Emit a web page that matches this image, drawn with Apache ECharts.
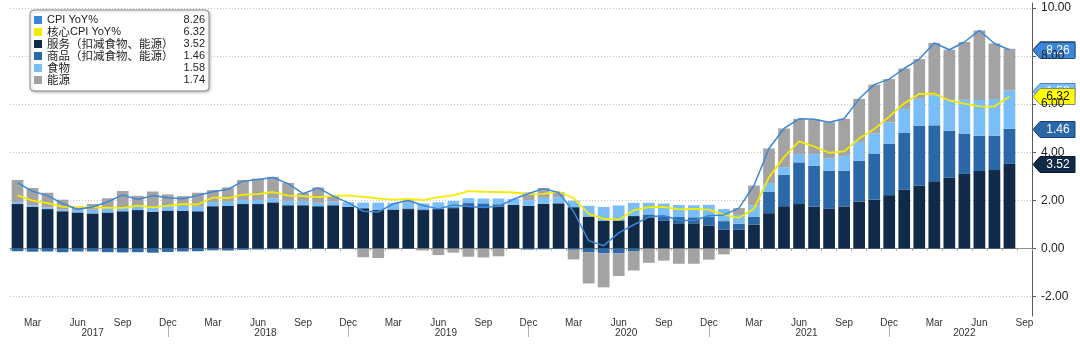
<!DOCTYPE html>
<html>
<head>
<meta charset="utf-8">
<script src="https://cdn.jsdelivr.net/npm/echarts@6/dist/echarts.min.js"></script>
<style>
  html, body { margin: 0; padding: 0; background: #ffffff; }
  #chart { width: 1080px; height: 344px; }
</style>
</head>
<body>
<div id="chart"></div>
<script>
// Monthly categories, Feb 2017 – Sep 2022 (Sep 2022 has no print yet)
const categories = [
  '2017-02','2017-03','2017-04','2017-05','2017-06','2017-07','2017-08','2017-09','2017-10','2017-11','2017-12',
  '2018-01','2018-02','2018-03','2018-04','2018-05','2018-06','2018-07','2018-08','2018-09','2018-10','2018-11','2018-12',
  '2019-01','2019-02','2019-03','2019-04','2019-05','2019-06','2019-07','2019-08','2019-09','2019-10','2019-11','2019-12',
  '2020-01','2020-02','2020-03','2020-04','2020-05','2020-06','2020-07','2020-08','2020-09','2020-10','2020-11','2020-12',
  '2021-01','2021-02','2021-03','2021-04','2021-05','2021-06','2021-07','2021-08','2021-09','2021-10','2021-11','2021-12',
  '2022-01','2022-02','2022-03','2022-04','2022-05','2022-06','2022-07','2022-08','2022-09'
];

// Headline CPI YoY %
const cpiYoY = [
  2.74, 2.38, 2.20, 1.87, 1.63, 1.73, 1.94, 2.23, 2.04, 2.20, 2.11,
  2.07, 2.21, 2.36, 2.46, 2.80, 2.87, 2.95, 2.70, 2.28, 2.52, 2.18, 1.91,
  1.55, 1.52, 1.86, 2.00, 1.79, 1.65, 1.81, 1.75, 1.71, 1.76, 2.05, 2.29,
  2.49, 2.33, 1.54, 0.33, 0.12, 0.65, 0.99, 1.31, 1.37, 1.18, 1.17, 1.36,
  1.40, 1.68, 2.62, 4.16, 4.99, 5.39, 5.37, 5.25, 5.39, 6.22, 6.81, 7.04,
  7.48, 7.87, 8.54, 8.26, 8.58, 9.06, 8.52, 8.26, null
];

// Core CPI YoY %
const coreYoY = [
  2.21, 1.99, 1.89, 1.73, 1.71, 1.71, 1.70, 1.69, 1.78, 1.71, 1.78,
  1.85, 1.83, 2.12, 2.10, 2.24, 2.26, 2.35, 2.20, 2.18, 2.14, 2.19, 2.21,
  2.15, 2.08, 2.03, 2.06, 2.01, 2.14, 2.21, 2.39, 2.36, 2.35, 2.33, 2.26,
  2.27, 2.37, 2.10, 1.44, 1.24, 1.20, 1.59, 1.72, 1.73, 1.63, 1.65, 1.62,
  1.40, 1.28, 1.65, 2.96, 3.80, 4.45, 4.24, 3.98, 4.04, 4.58, 4.96, 5.48,
  6.04, 6.42, 6.44, 6.15, 6.02, 5.91, 5.90, 6.32, null
];

// Contributions to headline CPI YoY, percentage points
const servicesContrib = [
  1.85, 1.74, 1.64, 1.55, 1.50, 1.46, 1.50, 1.55, 1.60, 1.53, 1.58,
  1.57, 1.55, 1.76, 1.77, 1.85, 1.85, 1.92, 1.80, 1.80, 1.76, 1.80, 1.73,
  1.67, 1.60, 1.61, 1.64, 1.60, 1.64, 1.68, 1.74, 1.71, 1.74, 1.82, 1.78,
  1.86, 1.88, 1.72, 1.33, 1.16, 1.17, 1.35, 1.30, 1.15, 1.05, 1.05, 0.96,
  0.78, 0.78, 1.00, 1.47, 1.76, 1.85, 1.74, 1.65, 1.75, 1.95, 2.03, 2.22,
  2.44, 2.62, 2.80, 2.95, 3.10, 3.22, 3.26, 3.52, null
];
const goodsContrib = [
  -0.11, -0.13, -0.12, -0.15, -0.12, -0.12, -0.15, -0.16, -0.15, -0.17, -0.14,
  -0.12, -0.11, -0.07, -0.08, -0.05, -0.04, -0.03, -0.03, -0.02, -0.02, -0.01, -0.02,
  0.02, 0.02, 0.02, 0.03, 0.03, 0.02, 0.04, 0.15, 0.17, 0.10, 0.00, -0.04,
  -0.03, -0.02, -0.05, -0.16, -0.20, -0.20, -0.10, 0.12, 0.20, 0.26, 0.25, 0.35,
  0.36, 0.25, 0.33, 0.90, 1.30, 1.73, 1.70, 1.58, 1.48, 1.70, 1.92, 2.14,
  2.36, 2.48, 2.32, 1.95, 1.68, 1.47, 1.43, 1.46, null
];
const foodContrib = [
  0.08, 0.06, 0.07, 0.07, 0.10, 0.15, 0.16, 0.14, 0.13, 0.17, 0.17,
  0.20, 0.19, 0.17, 0.17, 0.17, 0.17, 0.17, 0.18, 0.18, 0.14, 0.15, 0.18,
  0.22, 0.29, 0.26, 0.24, 0.24, 0.26, 0.26, 0.20, 0.20, 0.24, 0.24, 0.23,
  0.25, 0.24, 0.27, 0.45, 0.57, 0.62, 0.55, 0.48, 0.52, 0.50, 0.50, 0.51,
  0.50, 0.37, 0.46, 0.35, 0.32, 0.35, 0.48, 0.52, 0.62, 0.78, 0.83, 0.88,
  1.00, 1.12, 1.24, 1.28, 1.40, 1.48, 1.52, 1.58, null
];
const energyContrib = [
  0.92, 0.72, 0.61, 0.41, 0.15, 0.24, 0.43, 0.70, 0.46, 0.67, 0.50,
  0.41, 0.58, 0.50, 0.60, 0.83, 0.89, 0.89, 0.75, 0.32, 0.64, 0.24, 0.02,
  -0.36, -0.39, -0.03, 0.09, -0.08, -0.27, -0.17, -0.34, -0.37, -0.32, -0.01, 0.32,
  0.41, 0.23, -0.40, -1.29, -1.41, -0.94, -0.81, -0.59, -0.50, -0.63, -0.63, -0.46,
  -0.24, 0.28, 0.83, 1.44, 1.61, 1.46, 1.45, 1.50, 1.54, 1.79, 2.03, 1.80,
  1.68, 1.65, 2.18, 2.08, 2.40, 2.89, 2.31, 1.74, null
];

// Axis tick labels
const monthTickLabels = { '03': 'Mar', '06': 'Jun', '09': 'Sep', '12': 'Dec' };
// Year captions sit in the middle of each year's visible span
const yearTickLabels = {
  '2017-07': { text: '2017', between: false },
  '2018-06': { text: '2018', between: true },
  '2019-06': { text: '2019', between: true },
  '2020-06': { text: '2020', between: true },
  '2021-06': { text: '2021', between: true },
  '2022-05': { text: '2022', between: false }
};

const names = {
  cpi: 'CPI YoY%',
  core: '核心CPI YoY%',
  services: '服务（扣减食物、能源）',
  goods: '商品（扣减食物、能源）',
  food: '食物',
  energy: '能源'
};
const colors = {
  cpi: '#3b86d9',
  core: '#f4ec00',
  services: '#112a48',
  goods: '#2a68a7',
  food: '#79bdf9',
  energy: '#a3a3a3'
};

function lastValue(arr) {
  for (let i = arr.length - 1; i >= 0; i--) if (arr[i] != null) return arr[i];
  return null;
}
const latest = {
  cpi: lastValue(cpiYoY),
  core: lastValue(coreYoY),
  services: lastValue(servicesContrib),
  goods: lastValue(goodsContrib),
  food: lastValue(foodContrib),
  energy: lastValue(energyContrib)
};
const legendOrder = ['cpi', 'core', 'services', 'goods', 'food', 'energy'];

const FONT = '"Liberation Sans", Arial, "Noto Sans CJK SC", sans-serif';
const LATIN_FONT = '"Liberation Sans Narrow", "Liberation Sans", Arial, sans-serif';
const CJK_FONT = '"Noto Sans CJK SC", "Noto Sans CJK JP", sans-serif';
const LATIN_SIZE = 11;
const CJK_SIZE = 11.5;
const NAME_COLUMN = 134;

// Legend labels mix Latin and CJK runs; measure them so the values line up
const measureCtx = document.createElement('canvas').getContext('2d');
function textWidth(str, size, family) {
  measureCtx.font = size + 'px ' + family;
  return measureCtx.measureText(str).width;
}
const CJK_RE = /[\u3000-\u303f\u4e00-\u9fff\uff00-\uffef]/;
const RUN_RE = /[\u3000-\u303f\u4e00-\u9fff\uff00-\uffef]+|[^\u3000-\u303f\u4e00-\u9fff\uff00-\uffef]+/g;

const legendRich = {
  l: { fontFamily: LATIN_FONT, fontSize: LATIN_SIZE, color: '#222', lineHeight: 12 },
  c: { fontFamily: CJK_FONT, fontSize: CJK_SIZE, color: '#222', lineHeight: 12 }
};
const legendText = {};
legendOrder.forEach(function (key, i) {
  const name = names[key];
  let w = 0;
  let s = '';
  name.match(RUN_RE).forEach(function (run) {
    const cjk = CJK_RE.test(run);
    w += textWidth(run, cjk ? CJK_SIZE : LATIN_SIZE, cjk ? CJK_FONT : LATIN_FONT);
    s += '{' + (cjk ? 'c' : 'l') + '|' + run + '}';
  });
  legendRich['v' + i] = {
    fontFamily: FONT, fontSize: 11, color: '#222', lineHeight: 12,
    width: 24, align: 'right',
    padding: [0, 0, 0, Math.max(0, NAME_COLUMN - w)]
  };
  legendText[name] = s + '{v' + i + '|' + latest[key].toFixed(2) + '}';
});

const chart = echarts.init(document.getElementById('chart'), null, { renderer: 'canvas' });

function barSeries(key, data) {
  return {
    name: names[key],
    type: 'bar',
    stack: 'contrib',
    data: data,
    barCategoryGap: '22%',
    itemStyle: { color: colors[key] },
    z: 2
  };
}

const option = {
  animation: false,
  backgroundColor: '#ffffff',
  grid: { left: 10, right: 48, top: 3, bottom: 28, containLabel: false },
  legend: {
    orient: 'vertical',
    left: 30,
    top: 10,
    padding: [4, 4, 5, 4],
    itemGap: 0,
    itemWidth: 8,
    itemHeight: 8,
    align: 'left',
    selectedMode: false,
    backgroundColor: '#ffffff',
    borderColor: '#8c8c8c',
    borderWidth: 1,
    borderRadius: 4,
    shadowColor: 'rgba(0,0,0,0.25)',
    shadowBlur: 3,
    shadowOffsetX: 1,
    shadowOffsetY: 1,
    data: legendOrder.map(function (key) { return { name: names[key], icon: 'rect' }; }),
    formatter: function (name) { return legendText[name]; },
    textStyle: {
      fontFamily: FONT,
      fontSize: 11,
      color: '#222',
      lineHeight: 12,
      rich: legendRich
    }
  },
  xAxis: [
    {
      type: 'category',
      data: categories,
      position: 'bottom',
      boundaryGap: true,
      axisLine: { show: true, lineStyle: { color: '#8f8f8f', width: 1 } },
      axisTick: { show: true, interval: 0, length: 2, lineStyle: { color: '#9a9a9a' } },
      axisLabel: {
        interval: function (index, value) { return !!monthTickLabels[value.slice(5)]; },
        formatter: function (value) { return monthTickLabels[value.slice(5)] || ''; },
        fontFamily: FONT,
        fontSize: 10,
        color: '#333',
        margin: 2
      },
      splitLine: { show: false }
    },
    {
      type: 'category',
      data: categories,
      position: 'bottom',
      offset: 9,
      boundaryGap: true,
      axisLine: { show: false },
      axisTick: {
        show: true,
        alignWithLabel: true,
        interval: function (index, value) { return value.slice(5) === '12'; },
        length: 12,
        lineStyle: { color: '#b0b0b0', width: 1 }
      },
      axisLabel: {
        interval: function (index, value) { return !!yearTickLabels[value]; },
        formatter: function (value) {
          const y = yearTickLabels[value];
          if (!y) return '';
          return y.between ? '{b|' + y.text + '}' : '{c|' + y.text + '}';
        },
        rich: {
          b: { padding: [0, 0, 0, 15], fontFamily: FONT, fontSize: 10, color: '#333' },
          c: { fontFamily: FONT, fontSize: 10, color: '#333' }
        },
        fontFamily: FONT,
        fontSize: 10,
        color: '#333',
        margin: 3
      },
      splitLine: { show: false }
    }
  ],
  yAxis: {
    type: 'value',
    position: 'right',
    min: -2.8,
    max: 10.2,
    splitNumber: 6,
    axisLine: { show: true, lineStyle: { color: '#5a5a5a', width: 1 } },
    axisTick: { show: true, length: 4, lineStyle: { color: '#5a5a5a' } },
    axisLabel: {
      showMinLabel: false,
      showMaxLabel: false,
      formatter: function (v) { return v.toFixed(2); },
      fontFamily: FONT,
      fontSize: 12,
      color: '#222',
      margin: 9
    },
    splitLine: {
      show: true,
      showMinLine: false,
      showMaxLine: false,
      lineStyle: { color: '#c4c4c4', type: [1, 2], width: 1 }
    }
  },
  series: [
    {
      name: names.cpi,
      type: 'line',
      data: cpiYoY,
      symbol: 'none',
      lineStyle: { color: colors.cpi, width: 1.5 },
      itemStyle: { color: colors.cpi },
      z: 6
    },
    {
      name: names.core,
      type: 'line',
      data: coreYoY,
      symbol: 'none',
      lineStyle: { color: colors.core, width: 1.8 },
      itemStyle: { color: colors.core },
      z: 5
    },
    barSeries('services', servicesContrib),
    barSeries('goods', goodsContrib),
    barSeries('food', foodContrib),
    barSeries('energy', energyContrib)
  ]
};

chart.setOption(option);

// Last-value tags on the right axis, anchored at each series' latest level
function valueTag(level, text, fill, textColor, stroke) {
  const y = Math.round(chart.convertToPixel({ yAxisIndex: 0 }, level)) + 0.5;
  return {
    type: 'group',
    x: 1033,
    y: y,
    z: 100,
    children: [
      {
        type: 'polygon',
        shape: { points: [[0, 0], [7, -8], [42, -8], [42, 8], [7, 8]] },
        style: { fill: fill, stroke: stroke, lineWidth: 1 }
      },
      {
        type: 'text',
        x: 25,
        y: 0,
        style: {
          text: text,
          fill: textColor,
          font: '12px ' + FONT,
          align: 'center',
          verticalAlign: 'middle',
          textAlign: 'center',
          textVerticalAlign: 'middle'
        }
      }
    ]
  };
}

const sTop = latest.services;
const gTop = sTop + latest.goods;
const fTop = gTop + latest.food;
const eTop = fTop + latest.energy;

chart.setOption({
  graphic: [
    valueTag(eTop, latest.energy.toFixed(2), colors.energy, '#ffffff', '#6f6f6f'),
    valueTag(fTop, latest.food.toFixed(2), colors.food, '#ffffff', '#4d86b8'),
    valueTag(gTop, latest.goods.toFixed(2), colors.goods, '#ffffff', '#1b4270'),
    valueTag(sTop, latest.services.toFixed(2), colors.services, '#ffffff', '#0a1a2e'),
    valueTag(latest.core, latest.core.toFixed(2), '#ffff00', '#111111', '#8a8a6a'),
    valueTag(latest.cpi, latest.cpi.toFixed(2), colors.cpi, '#ffffff', '#1f4f86')
  ]
});
</script>
</body>
</html>
